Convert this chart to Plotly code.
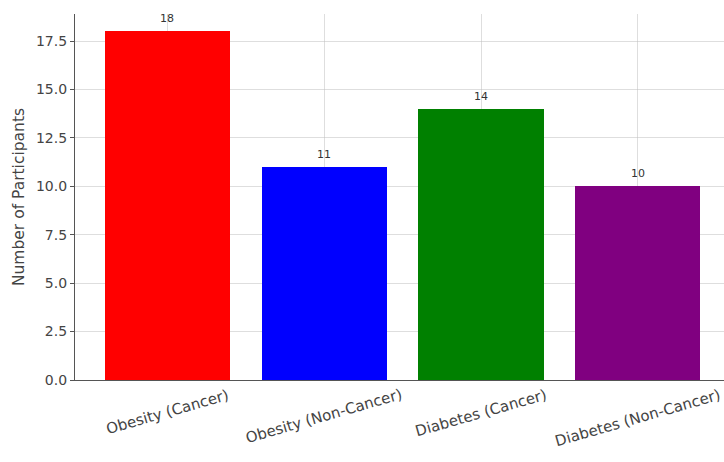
import plotly.graph_objects as go

categories = ["Obesity (Cancer)", "Obesity (Non-Cancer)", "Diabetes (Cancer)", "Diabetes (Non-Cancer)"]
values = [18, 11, 14, 10]
colors = ["#ff0000", "#0000ff", "#008000", "#800080"]
y_ticks = [0.0, 2.5, 5.0, 7.5, 10.0, 12.5, 15.0, 17.5]
y_title = "Number of Participants"

FONT = "DejaVu Sans"
xs = list(range(len(categories)))

fig = go.Figure()
fig.add_trace(go.Bar(
    x=xs, y=values, width=0.8,
    marker=dict(color=colors, line=dict(width=0)),
    showlegend=False, hoverinfo="skip",
))

annotations = []
for i, v in enumerate(values):
    annotations.append(dict(
        x=i, y=v, xref="x", yref="y", text=str(v), showarrow=False,
        yanchor="bottom", yshift=4, font=dict(family=FONT, size=11, color="#333333"),
    ))
for i, c in enumerate(categories):
    annotations.append(dict(
        x=i, y=0, xref="x", yref="y", text=c, showarrow=False,
        yanchor="top", xanchor="center", yshift=-3, textangle=-16,
        font=dict(family=FONT, size=15, color="#444444"),
    ))

fig.update_layout(
    width=724, height=462,
    margin=dict(l=75, r=0, t=14, b=82),
    paper_bgcolor="white", plot_bgcolor="white",
    font=dict(family=FONT, size=14, color="#444444"),
    bargap=0,
    annotations=annotations,
    xaxis=dict(
        range=[-0.59, 3.55], tickvals=xs, showticklabels=False,
        showgrid=True, gridcolor="rgba(190,190,190,0.5)", gridwidth=1,
        showline=True, linecolor="#555555", linewidth=1.2,
        ticks="", zeroline=False, layer="above traces",
    ),
    yaxis=dict(
        range=[0, 18.9], tickvals=y_ticks, ticktext=[f"{t:.1f}" for t in y_ticks],
        showgrid=True, gridcolor="rgba(190,190,190,0.5)", gridwidth=1,
        showline=True, linecolor="#555555", linewidth=1.2,
        ticks="outside", ticklen=4, tickcolor="#555555",
        tickfont=dict(family=FONT, size=14, color="#444444"),
        zeroline=False, layer="above traces",
        title=dict(text=y_title, font=dict(family=FONT, size=15.5, color="#444444"), standoff=7),
    ),
)

fig.write_html("out.html")
